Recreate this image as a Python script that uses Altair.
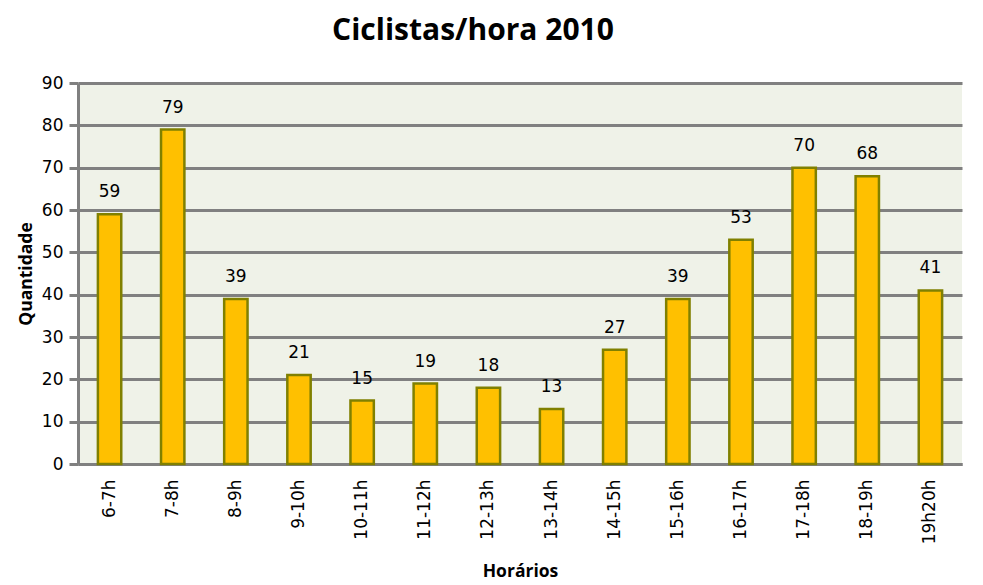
import altair as alt
import pandas as pd

horarios = ["6-7h", "7-8h", "8-9h", "9-10h", "10-11h", "11-12h", "12-13h",
            "13-14h", "14-15h", "15-16h", "16-17h", "17-18h", "18-19h", "19h20h"]
quantidade = [59, 79, 39, 21, 15, 19, 18, 13, 27, 39, 53, 70, 68, 41]
y_ticks = [0, 10, 20, 30, 40, 50, 60, 70, 80, 90]

df = pd.DataFrame({"Horários": horarios, "Quantidade": quantidade})

x = alt.X("Horários:N", sort=horarios,
          scale=alt.Scale(paddingInner=0.63, paddingOuter=0.315),
          axis=alt.Axis(labelAngle=-90, labelAlign="right", labelBaseline="middle",
                        labelFont="DejaVu Sans", labelFontSize=17, labelColor="#000000",
                        labelPadding=15, ticks=False, domainColor="#808080", domainWidth=3,
                        title="Horários", titleFont="Open Sans", titleFontSize=17.5,
                        titleFontWeight="bold", titlePadding=19, titleColor="#000000"))
y = alt.Y("Quantidade:Q",
          scale=alt.Scale(domain=[0, 90], nice=False),
          axis=alt.Axis(values=y_ticks, labelFont="DejaVu Sans", labelFontSize=17,
                        labelColor="#000000", labelPadding=6, tickSize=9,
                        tickColor="#808080", tickWidth=3, domainColor="#808080",
                        domainWidth=3, gridColor="#808080", gridWidth=3, grid=True,
                        title="Quantidade", titleFont="Open Sans", titleFontSize=17.5,
                        titleFontWeight="bold", titlePadding=6, titleColor="#000000"))

bars = alt.Chart(df).mark_bar(color="#FFC000", stroke="#808000", strokeWidth=2.5).encode(x=x, y=y)
labels = alt.Chart(df).mark_text(font="DejaVu Sans", fontSize=17, color="#000000",
                                 baseline="middle", dy=-22).encode(
    x=alt.X("Horários:N", sort=horarios),
    y="Quantidade:Q",
    text="Quantidade:Q")

chart = (bars + labels).properties(
    width=884, height=381,
    title=alt.TitleParams("Ciclistas/hora 2010", font="Open Sans", fontSize=30,
                          fontWeight="bold", color="#000000", offset=28, anchor="middle",
                          dx=-47),
    autosize=alt.AutoSizeParams(type="none"),
    padding={"left": 70, "top": 75, "right": 13, "bottom": 120},
).configure_view(fill="#EFF2E8", stroke=None)

chart.save("out.html", embed_options={"renderer": "svg", "actions": False})
